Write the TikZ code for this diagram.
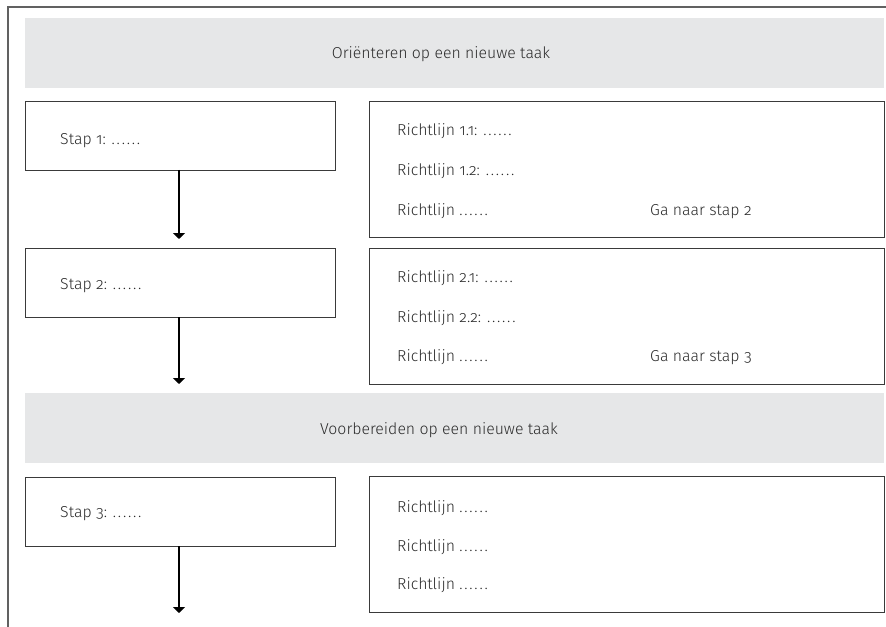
\documentclass[tikz,border=0pt]{standalone}
\usepackage{fontspec}
\setmainfont{Fira Sans}[UprightFont=* Light, Numbers=OldStyle]
\usetikzlibrary{arrows.meta}

\definecolor{bandgray}{HTML}{E6E7E8}
\definecolor{linegray}{HTML}{3A3A3A}
\definecolor{textgray}{HTML}{2B2B2B}

% wider dots
\newcommand{\puntjes}{.\kern1.5pt.\kern1.5pt.\kern1.5pt.\kern1.5pt.\kern1.5pt.}

\tikzset{
  band/.style={rectangle, fill=bandgray, inner sep=0pt, outer sep=0pt, anchor=north west,
    minimum width=25.77cm, minimum height=2.1cm},
  bandtxt/.style={anchor=base, inner sep=0pt, text=textgray, font=\fontsize{13.5}{16}\selectfont},
  stapbox/.style={rectangle, draw=linegray, line width=0.7pt, inner sep=0pt, outer sep=0pt,
    anchor=north west, minimum width=9.3cm, minimum height=2.07cm},
  rulebox/.style={rectangle, draw=linegray, line width=0.7pt, inner sep=0pt, outer sep=0pt,
    anchor=north west, minimum width=15.45cm, minimum height=4.1cm},
  txt/.style={anchor=base west, inner sep=0pt, text=textgray, font=\fontsize{13.5}{16}\selectfont},
  flow/.style={line width=1.1pt, -{Triangle[width=10pt,length=5pt]}}
}

\begin{document}
\begin{tikzpicture}[x=0.03cm, y=-0.03cm]
\useasboundingbox (0,0) rectangle (886,627);

% frame
\draw[linegray!80, line width=0.9pt] (886,7) -- (8,7) -- (8,627);

% orienteren
\node[band] (b1) at (25,18) {};
\node[bandtxt] (t1) at (441,59) {Oriënteren op een nieuwe taak};

\node[stapbox] (s1) at (25,101) {};
\node[txt] (s1t) at (60,145) {Stap 1: \puntjes};
\node[rulebox] (r1) at (369,101) {};
\node[txt] (r1a) at (397,136) {Richtlijn 1.1: \puntjes};
\node[txt] (r1b) at (397,176) {Richtlijn 1.2: \puntjes};
\node[txt] (r1c) at (397,216) {Richtlijn \puntjes};
\node[txt] (r1d) at (650,216) {Ga naar stap 2};
\coordinate (e1) at (179,239);
\draw[flow] (s1.south -| e1) -- (e1);

\node[stapbox] (s2) at (25,248) {};
\node[txt] (s2t) at (60,290) {Stap 2: \puntjes};
\node[rulebox] (r2) at (369,248) {};
\node[txt] (r2a) at (397,283) {Richtlijn 2.1: \puntjes};
\node[txt] (r2b) at (397,323) {Richtlijn 2.2: \puntjes};
\node[txt] (r2c) at (397,362) {Richtlijn \puntjes};
\node[txt] (r2d) at (650,362) {Ga naar stap 3};
\coordinate (e2) at (179,384);
\draw[flow] (s2.south -| e2) -- (e2);

% voorbereiden
\node[band] (b2) at (25,393) {};
\node[bandtxt] (t2) at (439,435) {Voorbereiden op een nieuwe taak};

\node[stapbox] (s3) at (25,477) {};
\node[txt] (s3t) at (60,518) {Stap 3: \puntjes};
\node[rulebox] (r3) at (369,476) {};
\node[txt] (r3a) at (397,513) {Richtlijn \puntjes};
\node[txt] (r3b) at (397,552) {Richtlijn \puntjes};
\node[txt] (r3c) at (397,590) {Richtlijn \puntjes};
\coordinate (e3) at (179,613);
\draw[flow] (s3.south -| e3) -- (e3);
\end{tikzpicture}
\end{document}
